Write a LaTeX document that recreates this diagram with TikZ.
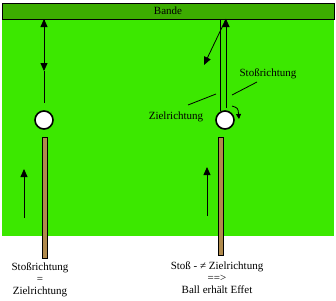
\documentclass[tikz,border=0pt]{standalone}
\usepackage{fontspec}
\setmainfont{Liberation Serif}
\usetikzlibrary{arrows.meta}
\definecolor{tuch}{HTML}{3CE800}
\definecolor{bandgreen}{HTML}{3CAC00}
\definecolor{queue}{HTML}{B08A4C}
\begin{document}
\begin{tikzpicture}[
  x=1pt, y=-1pt,
  every node/.style={font=\fontsize{11}{12}\selectfont, align=center, inner sep=0pt},
  bande/.style={draw, fill=bandgreen, minimum width=332pt, minimum height=16pt, line width=1pt},
  ball/.style={circle, draw, fill=white, line width=1.6pt, minimum size=18pt},
  cue/.style={draw, fill=queue, line width=0.8pt},
  arrow/.style={-{Triangle[length=8pt,width=7pt]}, line width=0.8pt},
  thin/.style={line width=0.8pt}
]
\useasboundingbox (0,0) rectangle (336,300);
\fill[tuch] (2,19) rectangle (334,236);
\node[bande] (bande) at (168,11) {Bande};

% left: Stossrichtung = Zielrichtung
\node[ball] (lball) at (44,120) {};
\coordinate (ltop) at (44,19);
\coordinate (lup) at (44,45);
\coordinate (ldown) at (44,71);
\coordinate (lend) at (44,103);
\draw[arrow] (lup) -- (ltop);
\draw[arrow] (ltop) -- (ldown);
\draw[thin] (ldown) -- (lend);
\draw[cue] (42,137) rectangle (47,258);
\coordinate (lfrom) at (24,218);
\coordinate (lto) at (24,169);
\draw[arrow] (lfrom) -- (lto);
\node (ltext) at (40,280) {Stoßrichtung\\=\\Zielrichtung};

% right: Stoss- und Zielrichtung verschieden
\node[ball] (rball) at (225,120) {};
\coordinate (rtopa) at (220,19);
\coordinate (renda) at (220,111);
\coordinate (rtopb) at (226,19);
\coordinate (rendb) at (226,108);
\coordinate (rback) at (204,65);
\draw[thin] (rtopa) -- (renda);
\draw[arrow] (rendb) -- (rtopb);
\draw[arrow] (rtopb) -- (rback);
\draw[cue] (218,137) rectangle (223,255);
\coordinate (rfrom) at (207,216);
\coordinate (rto) at (207,167);
\draw[arrow] (rfrom) -- (rto);
\draw[-{Triangle[length=5pt,width=5pt]}, line width=0.8pt] (232,106) .. controls (238,108) .. (239,119);

\node (stoss) at (268,74) {Stoßrichtung};
\node (ziel) at (176,117) {Zielrichtung};
\draw[thin] (232,95) -- (257,82);
\draw[thin] (188,105) -- (216,94);
\node (rtext) at (217,278) {Stoß - ≠ Zielrichtung\\==>\\Ball erhält Effet};
\end{tikzpicture}
\end{document}
